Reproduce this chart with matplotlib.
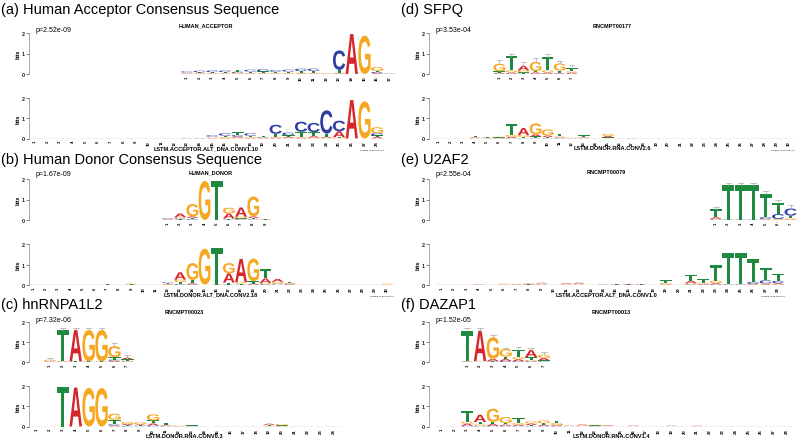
import matplotlib
matplotlib.use("Agg")
import matplotlib.pyplot as plt
from matplotlib.textpath import TextPath
from matplotlib.font_manager import FontProperties
from matplotlib.patches import PathPatch
from matplotlib.transforms import Affine2D

W, H = 799, 439
BASES = "ACGT"
COLORS = {"A": "#d7262b", "C": "#2c3ea3", "G": "#f7a823", "T": "#1d8a3f"}

# information content per position, columns are A, C, G, T (bits)
Z = [0.003, 0.003, 0.003, 0.003]

acc_top = [[0.02, 0.06, 0.02, 0.03], [0.02, 0.08, 0.02, 0.04], [0.02, 0.08, 0.03, 0.04],
           [0.02, 0.08, 0.02, 0.05], [0.02, 0.06, 0.03, 0.08], [0.02, 0.09, 0.03, 0.07],
           [0.02, 0.10, 0.03, 0.08], [0.02, 0.08, 0.03, 0.06], [0.02, 0.09, 0.03, 0.07],
           [0.03, 0.12, 0.03, 0.08], [0.02, 0.11, 0.03, 0.10], [0.01, 0.01, 0.01, 0.01],
           [0.03, 0.95, 0.03, 0.14], [1.95, 0.0, 0.0, 0.0], [0.0, 0.0, 1.87, 0.0],
           [0.05, 0.05, 0.20, 0.05], [0.01, 0.01, 0.01, 0.01]]
acc_bot = [Z, Z, Z, Z, Z, Z, Z, Z, Z, Z, Z, Z,
           [0.01, 0.01, 0.01, 0.01], [0.01, 0.01, 0.01, 0.01],
           [0.02, 0.07, 0.03, 0.04], [0.03, 0.12, 0.04, 0.07], [0.05, 0.08, 0.04, 0.15],
           [0.03, 0.12, 0.04, 0.07], [0.02, 0.03, 0.02, 0.05], [0.04, 0.45, 0.04, 0.15],
           [0.05, 0.13, 0.03, 0.08], [0.04, 0.50, 0.04, 0.25], [0.08, 0.45, 0.04, 0.20],
           [0.05, 1.15, 0.04, 0.15], [0.30, 0.52, 0.03, 0.03], [1.90, 0.0, 0.0, 0.0],
           [0.0, 0.0, 1.83, 0.0], [0.08, 0.10, 0.30, 0.08]]

don_top = [[0.03, 0.03, 0.02, 0.03], [0.18, 0.05, 0.06, 0.03], [0.08, 0.04, 0.60, 0.06],
           [0.0, 0.0, 1.90, 0.0], [0.0, 0.0, 0.0, 1.92], [0.25, 0.02, 0.28, 0.05],
           [0.45, 0.03, 0.08, 0.05], [0.08, 0.03, 0.97, 0.07], [0.01, 0.01, 0.02, 0.01]]
don_bot = [Z, Z, Z, Z, Z, Z, [0.005, 0.005, 0.01, 0.01], Z, [0.01, 0.01, 0.04, 0.01], Z, Z,
           [0.03, 0.04, 0.03, 0.03], [0.36, 0.04, 0.12, 0.10], [0.07, 0.02, 0.82, 0.16],
           [0.0, 0.0, 1.75, 0.02], [0.02, 0.0, 0.0, 1.77], [0.45, 0.02, 0.50, 0.10],
           [1.12, 0.02, 0.08, 0.05], [0.05, 0.02, 1.10, 0.12], [0.22, 0.04, 0.06, 0.46],
           [0.14, 0.04, 0.10, 0.02], [0.03, 0.03, 0.04, 0.06], Z, Z, Z, Z, Z, Z, Z,
           [0.01, 0.0, 0.04, 0.01]]

hn_top = [[0.02, 0.01, 0.06, 0.02], [0.02, 0.01, 0.02, 1.55], [1.57, 0.01, 0.01, 0.01],
          [0.01, 0.01, 1.57, 0.01], [0.01, 0.01, 1.57, 0.01], [0.06, 0.06, 0.55, 0.12],
          [0.09, 0.03, 0.04, 0.06]]
hn_err = [0.20, 1.70, 1.70, 1.70, 1.70, 0.97, 0.33]
hn_bot = [Z, Z, [0.0, 0.0, 0.0, 1.97], [1.92, 0.0, 0.0, 0.0], [0.0, 0.0, 1.90, 0.0],
          [0.0, 0.0, 1.90, 0.0], [0.05, 0.06, 0.30, 0.22], [0.06, 0.03, 0.10, 0.04],
          [0.05, 0.02, 0.10, 0.04], [0.10, 0.05, 0.30, 0.15], [0.03, 0.02, 0.03, 0.10],
          [0.01, 0.01, 0.02, 0.01], [0.01, 0.01, 0.01, 0.02], Z, Z, Z, Z, Z,
          [0.06, 0.01, 0.03, 0.04], [0.02, 0.01, 0.07, 0.02], Z, Z, Z, Z]

sfpq_top = [[0.04, 0.03, 0.37, 0.06], [0.06, 0.02, 0.10, 0.72], [0.22, 0.02, 0.10, 0.06],
            [0.06, 0.02, 0.45, 0.06], [0.06, 0.02, 0.10, 0.66], [0.03, 0.02, 0.35, 0.12],
            [0.05, 0.02, 0.06, 0.16]]
sfpq_err = [0.70, 1.00, 0.60, 0.78, 1.00, 0.65, 0.45]
sfpq_bot = [Z, Z, Z, [0.03, 0.01, 0.02, 0.08], [0.01, 0.02, 0.01, 0.02],
            [0.02, 0.01, 0.04, 0.02], [0.06, 0.02, 0.10, 0.52], [0.36, 0.02, 0.08, 0.06],
            [0.10, 0.02, 0.55, 0.08], [0.08, 0.02, 0.30, 0.05], [0.03, 0.02, 0.05, 0.12],
            [0.01, 0.01, 0.02, 0.01], [0.03, 0.01, 0.02, 0.10], Z,
            [0.08, 0.01, 0.10, 0.04], Z, [0.01, 0.005, 0.005, 0.02],
            Z, Z, Z, Z, Z, Z, Z, Z, Z, Z, Z, Z, Z]

u2_top = [[0.08, 0.03, 0.03, 0.38], [0.0, 0.02, 0.0, 1.68], [0.0, 0.02, 0.0, 1.68],
          [0.0, 0.02, 0.0, 1.68], [0.02, 0.10, 0.02, 1.12], [0.02, 0.24, 0.03, 0.52],
          [0.02, 0.35, 0.06, 0.13]]
u2_err = [0.62, 1.80, 1.80, 1.80, 1.40, 0.97, 0.73]
u2_bot = [Z, Z, Z, [0.02, 0.005, 0.01, 0.005], Z, [0.015, 0.01, 0.02, 0.015],
          [0.015, 0.01, 0.02, 0.015], [0.03, 0.01, 0.03, 0.02], [0.04, 0.02, 0.02, 0.03], Z,
          [0.04, 0.01, 0.02, 0.02], [0.05, 0.01, 0.02, 0.03], Z, [0.01, 0.01, 0.01, 0.005],
          [0.015, 0.01, 0.01, 0.01], [0.02, 0.01, 0.01, 0.01], [0.015, 0.01, 0.01, 0.01], Z,
          [0.02, 0.01, 0.07, 0.14], Z, [0.12, 0.03, 0.06, 0.30], [0.03, 0.02, 0.04, 0.18],
          [0.06, 0.03, 0.12, 0.75], [0.01, 0.02, 0.01, 1.52], [0.01, 0.02, 0.01, 1.54],
          [0.03, 0.10, 0.02, 1.10], [0.04, 0.15, 0.04, 0.60], [0.06, 0.11, 0.03, 0.35]]

dz_top = [[0.02, 0.01, 0.02, 1.52], [1.52, 0.01, 0.02, 0.02], [0.12, 0.02, 1.08, 0.02],
          [0.10, 0.05, 0.38, 0.12], [0.10, 0.04, 0.10, 0.36], [0.36, 0.04, 0.06, 0.14],
          [0.12, 0.03, 0.17, 0.05]]
dz_err = [1.70, 1.70, 1.35, 0.70, 0.75, 0.70, 0.50]
dz_bot = [Z, Z, [0.10, 0.04, 0.10, 0.52], [0.36, 0.03, 0.07, 0.12], [0.10, 0.03, 0.65, 0.10],
          [0.06, 0.04, 0.30, 0.07], [0.06, 0.03, 0.08, 0.23], [0.08, 0.02, 0.10, 0.05],
          [0.06, 0.03, 0.14, 0.07], [0.04, 0.03, 0.10, 0.11], [0.015, 0.01, 0.015, 0.01],
          [0.04, 0.01, 0.03, 0.02], [0.02, 0.01, 0.03, 0.02], [0.03, 0.01, 0.02, 0.01], Z,
          [0.02, 0.01, 0.01, 0.01], Z, Z, [0.02, 0.005, 0.01, 0.005], Z,
          [0.02, 0.005, 0.01, 0.005], Z, Z, Z, Z, Z, Z, Z]

titles = ["(a) Human Acceptor Consensus Sequence", "(b) Human Donor Consensus Sequence",
          "(c) hnRNPA1L2", "(d) SFPQ", "(e) U2AF2", "(f) DAZAP1"]
pvals = ["p=2.52e-09", "p=1.67e-09", "p=7.32e-06", "p=3.53e-04", "p=2.55e-04", "p=1.52e-05"]
motif_names = ["HUMAN_ACCEPTOR", "HUMAN_DONOR", "RNCMPT00023",
               "RNCMPT00177", "RNCMPT00079", "RNCMPT00013"]
filter_names = ["LSTM.ACCEPTOR.ALT_DNA.CONV1.10", "LSTM.DONOR.ALT_DNA.CONV2.18",
                "LSTM.DONOR.RNA.CONV0.3", "LSTM.DONOR.RNA.CONV2.6",
                "LSTM.ACCEPTOR.ALT_DNA.CONV1.0", "LSTM.DONOR.RNA.CONV1.4"]
top_logos = [acc_top, don_top, hn_top, sfpq_top, u2_top, dz_top]
top_errs = [None, None, hn_err, sfpq_err, u2_err, dz_err]
bot_logos = [acc_bot, don_bot, hn_bot, sfpq_bot, u2_bot, dz_bot]
offsets = [12, 11, 1, 5, 22, 2]

# layout in pixels: (spine x, first position x, spacing, row)
layout = [(29, 35, 12.67, 0), (29, 34, 12.18, 1), (29, 37, 12.9, 2),
          (429, 439, 12.07, 0), (429, 441.7, 12.46, 1), (429, 441.7, 12.78, 2)]
rows_y = [(34, 75, 99, 139.5), (180, 221, 245, 286), (323, 363, 387, 427.5)]
title_y = [10, 160, 305]
motif_y = [26, 173, 313]
pval_y = [30, 174, 321]

plt.rcParams["font.family"] = ["Liberation Sans", "DejaVu Sans"]
fp = FontProperties(family="Liberation Sans", weight="bold")
GLYPHS = {b: TextPath((0, 0), b, size=1, prop=fp) for b in BASES}

fig = plt.figure(figsize=(W / 100, H / 100), dpi=100)


def px_axes(x0, y_top, x1, y_bot):
    return fig.add_axes([x0 / W, 1 - y_bot / H, (x1 - x0) / W, (y_bot - y_top) / H])


def draw_letter(ax, b, x, y, w, h):
    path = GLYPHS[b]
    ext = path.get_extents()
    t = (Affine2D().translate(-ext.x0, -ext.y0)
         .scale(w / ext.width, h / ext.height).translate(x - w / 2, y))
    ax.add_patch(PathPatch(t.transform_path(path), fc=COLORS[b], ec="none", lw=0,
                           clip_on=False))


def draw_logo(ax, cols, start, errs=None):
    for i, col in enumerate(cols):
        x = start + i
        y = 0.0
        for h, b in sorted(zip(col, BASES)):
            if h > 0:
                draw_letter(ax, b, x, y, 0.97, h)
                y += h
        if errs is not None:
            ax.plot([x, x], [y, errs[i]], color="#a8a8a8", lw=0.5, clip_on=False)
            ax.plot([x - 0.22, x + 0.22], [errs[i], errs[i]], color="#a8a8a8", lw=0.5,
                    clip_on=False)


def style_axes(ax, xlim0, xmax, start, n):
    ax.set_xlim(xlim0, xmax)
    ax.set_ylim(0, 2)
    ax.patch.set_alpha(0)
    for s in ["top", "right", "bottom"]:
        ax.spines[s].set_visible(False)
    ax.spines["left"].set_linewidth(0.4)
    ax.spines["left"].set_color("#666666")
    ax.set_yticks([0, 1, 2])
    ax.set_yticklabels(["0", "1", "2"], fontsize=4, fontweight="bold")
    ax.tick_params(axis="y", length=2, width=0.4, pad=1, colors="#222222")
    ax.set_ylabel("bits", fontsize=3.8, fontweight="bold", labelpad=1)
    ax.set_xticks(range(start, start + n))
    ax.set_xticklabels([str(i + 1) for i in range(n)], rotation=90, fontsize=3.1,
                       fontweight="bold")
    ax.tick_params(axis="x", length=0, pad=1)


for k in range(6):
    spine, p1, sp, row = layout[k]
    yt2, yt0, yb2, yb0 = rows_y[row]
    top, bot = top_logos[k], bot_logos[k]
    xlim0 = 1 - (p1 - spine) / sp
    n_bot = len(bot)
    n_top_end = max(n_bot, offsets[k] + len(top))
    colx = 0 if spine < 400 else 400

    ax_b = px_axes(spine, yb2, spine + (n_bot + 0.5 - xlim0) * sp, yb0)
    style_axes(ax_b, xlim0, n_bot + 0.5, 1, n_bot)
    draw_logo(ax_b, bot, 1)

    ax_t = px_axes(spine, yt2, spine + (n_top_end + 0.5 - xlim0) * sp, yt0)
    style_axes(ax_t, xlim0, n_top_end + 0.5, offsets[k] + 1, len(top))
    draw_logo(ax_t, top, offsets[k] + 1, top_errs[k])

    xc = spine + (n_bot + 0.5 - xlim0) * sp / 2
    xr = spine + (n_bot + 0.5 - xlim0) * sp
    fig.text(colx / W + 0.001, 1 - title_y[row] / H, titles[k], fontsize=10.5,
             va="center", ha="left")
    fig.text((colx + 36) / W, 1 - pval_y[row] / H, pvals[k], fontsize=5, va="center")
    fig.text(xc / W, 1 - motif_y[row] / H, motif_names[k], fontsize=4,
             fontweight="bold", ha="center", va="center")
    fig.text(xc / W, 1 - (yb0 + 9) / H, filter_names[k], fontsize=4.1,
             fontweight="bold", ha="center", va="center")
    fig.text(xr / W, 1 - (yb0 + 10.5) / H, "Tomtom 14.06.18 15:36", fontsize=1.6,
             ha="right", va="center")

fig.savefig("out.png", dpi=100)
